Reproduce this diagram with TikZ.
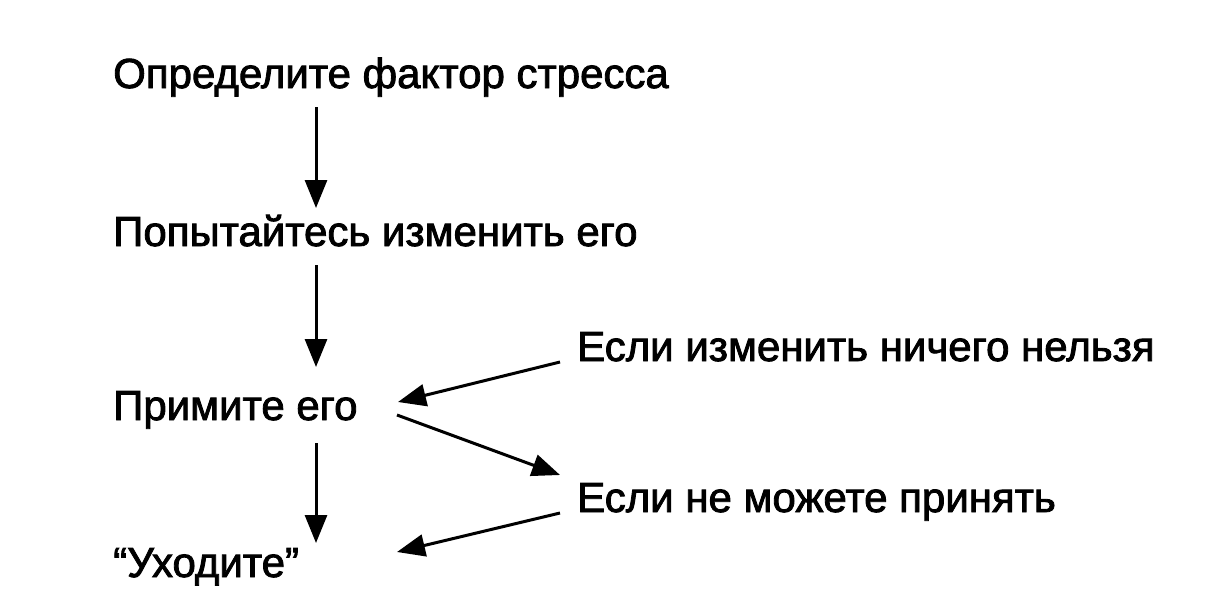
\documentclass[tikz,border=0pt]{standalone}
\usepackage{fontspec}
\setmainfont[FakeBold=2]{Liberation Sans}
\usetikzlibrary{arrows.meta}
\begin{document}
\begin{tikzpicture}[x=1pt,y=-1pt,
  txt/.style={anchor=base west,inner sep=0pt,font=\fontsize{42}{50}\selectfont},
  arr/.style={line width=3pt,-{Triangle[length=28pt,width=22pt]}}]
\useasboundingbox[fill=white] (0,0) rectangle (1213,603);
\node[txt] (a) at (113,88) {Определите фактор стресса};
\node[txt] (b) at (113,246) {Попытайтесь изменить его};
\node[txt] (c) at (113,420) {Примите его};
\node[txt] (d) at (113,577) {“Уходите”};
\node[txt] (e) at (577,361) {Если изменить ничего нельзя};
\node[txt] (f) at (577,512) {Если не можете принять};
\draw[arr] ([shift={(203,19)}]a.base west) -- ([shift={(203,-38)}]b.base west);
\draw[arr] ([shift={(203,19)}]b.base west) -- ([shift={(203,-53)}]c.base west);
\draw[arr] ([shift={(203,23)}]c.base west) -- ([shift={(203,-34)}]d.base west);
\draw[arr] ([shift={(-17,1)}]e.base west) -- ([shift={(285,-18)}]c.base west);
\draw[arr] ([shift={(284,-5)}]c.base west) -- ([shift={(-17,-37)}]f.base west);
\draw[arr] ([shift={(-17,1)}]f.base west) -- ([shift={(284,-25)}]d.base west);
\end{tikzpicture}
\end{document}
